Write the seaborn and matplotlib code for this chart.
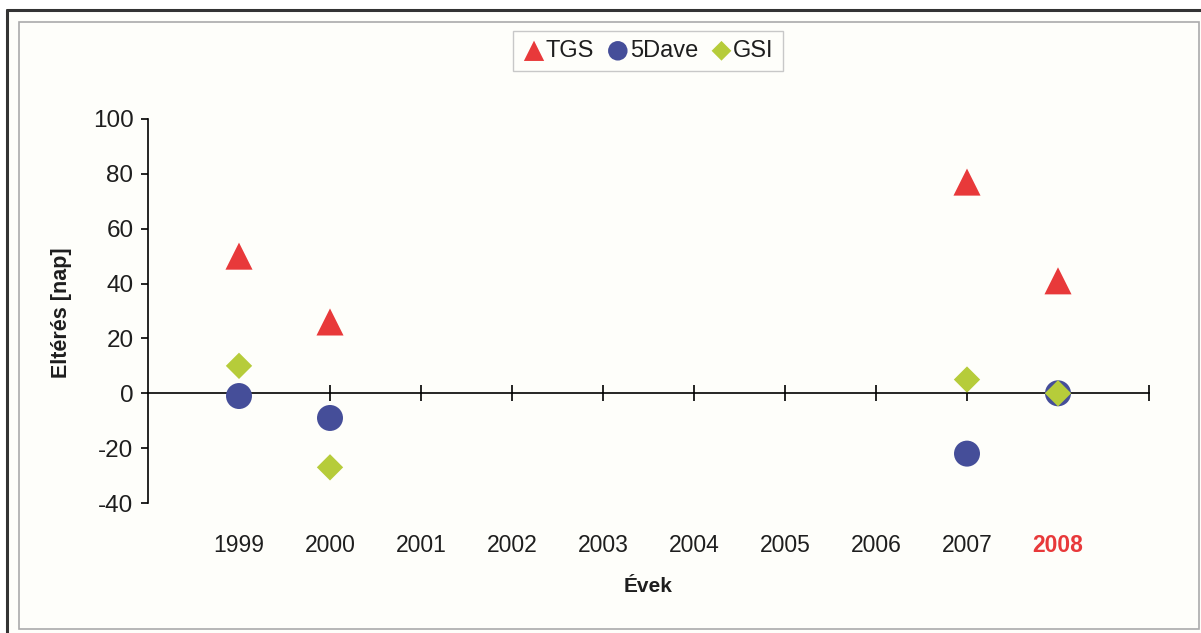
import matplotlib
matplotlib.use("Agg")
import matplotlib.pyplot as plt
from matplotlib.patches import Rectangle
from matplotlib.lines import Line2D
import seaborn as sns
import pandas as pd

# Deviation (days) of each method per year
years = [1999, 2000, 2007, 2008]
tgs = [50, 26, 77, 41]
dave5 = [-1, -9, -22, 0]
gsi = [10, -27, 5, 0]

year_labels = [1999, 2000, 2001, 2002, 2003, 2004, 2005, 2006, 2007, 2008]
y_ticks = [-40, -20, 0, 20, 40, 60, 80, 100]
highlight_year = 2008

sns.set_style("white")
plt.rcParams["font.family"] = ["Liberation Sans", "DejaVu Sans"]

bg = "#FEFEFA"
txt = "#1E1E1E"

fig = plt.figure(figsize=(12.01, 6.33), dpi=100)
fig.patch.set_facecolor("white")

W, H = 1201, 633
# panel background and frames
fig.patches.append(Rectangle((7 / W, 0), 1 - 7 / W, 1 - 10 / H, transform=fig.transFigure,
                             facecolor=bg, edgecolor="none", zorder=-5))
fig.add_artist(Line2D([7 / W, 1], [1 - 10 / H, 1 - 10 / H], transform=fig.transFigure,
                      color="#333333", lw=2.2))
fig.add_artist(Line2D([7 / W, 7 / W], [0, 1 - 10 / H], transform=fig.transFigure,
                      color="#333333", lw=2.2))
fig.patches.append(Rectangle((19 / W, 1 - 628.5 / H), (1199 - 19) / W, (628.5 - 22) / H,
                             transform=fig.transFigure, facecolor="none",
                             edgecolor="#ABABAB", lw=1.2, zorder=-4))

ax = fig.add_axes([148 / W, 1 - 503 / H, 1001 / W, 384 / H])
ax.set_facecolor("none")

series = [
    ("TGS", tgs, "^", "#E8393A", 380),
    ("5Dave", dave5, "o", "#454E99", 350),
    ("GSI", gsi, "D", "#B6CC3A", 180),
]
for name, vals, mk, col, s in series:
    df = pd.DataFrame({"year": years, "value": vals})
    sns.scatterplot(data=df, x="year", y="value", marker=mk, color=col, s=s,
                    edgecolor="none", linewidth=0, ax=ax, label=name, zorder=3,
                    clip_on=False)

ax.set_xlim(1998, 2009)
ax.set_ylim(-40, 100)
ax.set_xlabel("")
ax.set_ylabel("")

# x axis sits on the zero line
for side in ["top", "right"]:
    ax.spines[side].set_visible(False)
ax.spines["bottom"].set_position(("data", 0))
ax.spines["bottom"].set_color("black")
ax.spines["bottom"].set_linewidth(1.2)
ax.spines["left"].set_color("black")
ax.spines["left"].set_linewidth(1.2)

ax.set_xticks(list(range(1999, 2010)))
ax.tick_params(axis="x", direction="inout", length=11.5, width=1.2, color="black",
               labelbottom=False, bottom=True)
ax.set_yticks(y_ticks)
ax.set_yticklabels([str(v) for v in y_ticks])
ax.tick_params(axis="y", direction="out", length=5, width=1.2, color="black",
               pad=5.5, labelsize=17.5, labelcolor=txt, left=True)

# year labels below the plot area
for yr in year_labels:
    hl = yr == highlight_year
    ax.text(yr, -0.1276, str(yr), transform=ax.get_xaxis_transform(),
            ha="center", va="baseline", fontsize=16.5,
            fontweight="bold" if hl else "normal",
            color="#E8393A" if hl else txt)

fig.text(648 / W, 1 - 592 / H, "Évek", ha="center", va="baseline",
         fontsize=15, fontweight="bold", color=txt)
fig.text(62 / W, 1 - 313 / H, "Eltérés [nap]", ha="center", va="center",
         rotation=90, fontsize=15.5, fontweight="bold", color=txt)

handles, labels = ax.get_legend_handles_labels()
ax.get_legend().remove()
leg = fig.legend(handles, labels, loc="center", bbox_to_anchor=(648 / W, 1 - 51 / H),
                 ncol=3, fontsize=17, markerscale=0.75, handletextpad=0.0,
                 columnspacing=0.5, handlelength=1.0, borderpad=0.4,
                 frameon=True, fancybox=False, edgecolor="#C8C8C8",
                 facecolor=bg, framealpha=1)
leg.get_frame().set_linewidth(1.0)
for t in leg.get_texts():
    t.set_color(txt)

fig.savefig("out.png", dpi=100, facecolor=fig.get_facecolor())
